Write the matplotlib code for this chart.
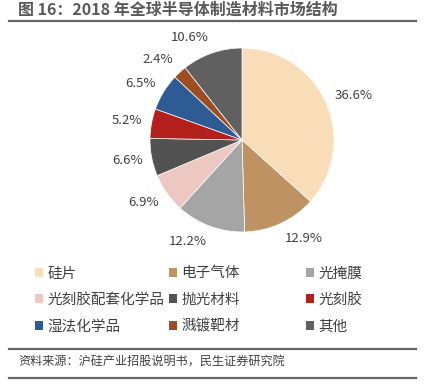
import numpy as np
import matplotlib
matplotlib.use("Agg")
import matplotlib.pyplot as plt
from matplotlib.patches import Patch

plt.rcParams['font.family'] = ['Noto Sans CJK SC', 'DejaVu Sans']

# 市场结构数据
labels = ["硅片", "电子气体", "光掩膜", "光刻胶配套化学品", "抛光材料",
          "光刻胶", "湿法化学品", "溅镀靶材", "其他"]
shares = [36.6, 12.9, 12.2, 6.9, 6.6, 5.2, 6.5, 2.4, 10.6]
colors = ["#F9DCB8", "#BF9263", "#A5A5A5", "#EDC7C2", "#525252",
          "#B3201C", "#2F5B94", "#9C4E22", "#606060"]

fig = plt.figure(figsize=(4.24, 3.86), dpi=100)

# 标题和分隔线
fig.text(18 / 424, 1 - 10 / 386, "图 16：2018 年全球半导体制造材料市场结构",
         fontsize=11.5, fontweight="bold", color="#595959", va="center", ha="left")
for yy in (21, 349, 378):
    fig.add_artist(plt.Line2D([9 / 424, 416 / 424], [1 - yy / 386, 1 - yy / 386],
                              color="#666666", lw=1.6))
fig.text(18 / 424, 1 - 362 / 386, "资料来源：沪硅产业招股说明书，民生证券研究院",
         fontsize=8.7, color="#404040", va="center", ha="left")

# 饼图
ax = fig.add_axes([150 / 424, 1 - 232 / 386, 184 / 424, 184 / 386])
wedges, _ = ax.pie(shares, colors=colors, startangle=90, counterclock=False,
                   radius=1, wedgeprops=dict(edgecolor="white", linewidth=0.5))

# 数据标签放在扇形外侧 (类似Excel的"数据标签外")
for w, v in zip(wedges, shares):
    ang = np.deg2rad((w.theta1 + w.theta2) / 2)
    c, s = np.cos(ang), np.sin(ang)
    ax.text(1.1 * c, 1.18 * s, f"{v:.1f}%", fontsize=9.5, color="#404040",
            ha="left" if c > 0 else "right", va="center")
ax.set_xlim(-1, 1)
ax.set_ylim(-1, 1)
ax.set_aspect("equal")
ax.axis("off")

# 图例 (三列, 按行排列)
handles = [Patch(facecolor=c, edgecolor="none") for c in colors]
col_x = [35, 169, 306]
for j, x in enumerate(col_x):
    idx = [j, j + 3, j + 6]
    leg = fig.legend([handles[i] for i in idx], [labels[i] for i in idx],
                     loc="center left", bbox_to_anchor=(x / 424, 1 - 300 / 386),
                     frameon=False, fontsize=10.5, handlelength=0.55,
                     handleheight=0.55, handletextpad=0.3, labelspacing=0.85,
                     borderpad=0, borderaxespad=0)
    for t in leg.get_texts():
        t.set_color("#404040")

fig.savefig("out.png", dpi=100)
